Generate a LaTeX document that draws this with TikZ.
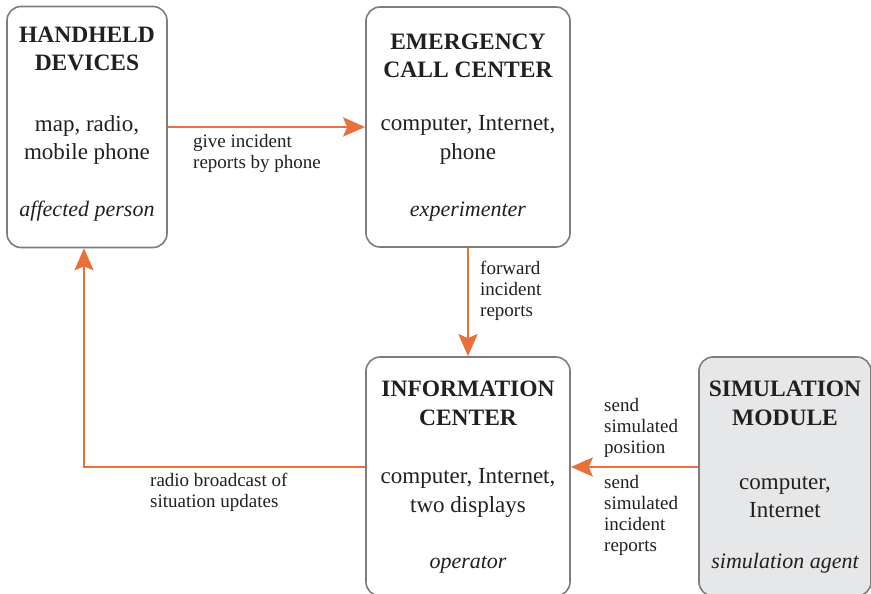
\documentclass[tikz,border=0pt]{standalone}
\usepackage{fontspec}
\setmainfont{Liberation Serif}
\usetikzlibrary{arrows.meta}
\definecolor{flow}{HTML}{E9703A}
\definecolor{frame}{HTML}{7D7D7D}
\definecolor{simfill}{HTML}{E6E7E8}
\definecolor{ink}{HTML}{231F20}
\tikzset{
  unit/.style={draw=frame, line width=1.6pt, rounded corners=14pt,
    inner sep=0pt, fill=white},
  heading/.style={align=center, inner sep=0pt, text=ink,
    font=\fontsize{23.5}{28.5}\selectfont\bfseries},
  body/.style={align=center, inner sep=0pt, text=ink,
    font=\fontsize{23}{28.5}\selectfont},
  role/.style={inner sep=0pt, text=ink, font=\fontsize{22}{26}\selectfont\itshape},
  note/.style={align=left, anchor=west, inner sep=0pt, text=ink,
    font=\fontsize{19}{21}\selectfont},
  flowline/.style={draw=flow, line width=2.8pt,
    -{Stealth[length=22pt,width=19pt,inset=4pt]}},
}
\begin{document}
\begin{tikzpicture}[x=1pt, y=-1pt]
  \useasboundingbox (0,0) rectangle (871,594);
  \clip (0,0) rectangle (871,594);

  % the four units
  \node[unit, minimum width=160pt, minimum height=241pt] (hand) at (87,127) {};
  \node[unit, minimum width=204pt, minimum height=240pt] (emer) at (468,127) {};
  \node[unit, minimum width=204pt, minimum height=239pt] (info) at (468,476.5) {};
  \node[unit, fill=simfill, minimum width=172pt, minimum height=239pt] (sim) at (785,476.5) {};

  % unit contents
  \node[heading] (handT) at (87,49) {HANDHELD\\DEVICES};
  \node[body] (handB) at (87,140) {map, radio,\\mobile phone};
  \node[role] (handR) at (87,211) {affected person};

  \node[heading] (emerT) at (468,56) {EMERGENCY\\CALL CENTER};
  \node[body] (emerB) at (468,140) {computer, Internet,\\phone};
  \node[role] (emerR) at (468,212) {experimenter};

  \node[heading] (infoT) at (468,403.5) {INFORMATION\\CENTER};
  \node[body] (infoB) at (468,493) {computer, Internet,\\two displays};
  \node[role] (infoR) at (468,565) {operator};

  \node[heading] (simT) at (785,403.5) {SIMULATION\\MODULE};
  \node[body] (simB) at (785,497) {computer,\\Internet};
  \node[role] (simR) at (785,563) {simulation agent};

  % information flows
  \draw[flowline] (hand.east) -- (emer.west);
  \draw[flowline] (emer.south) -- (info.north);
  \coordinate (infoOut) at ([yshift=9.5pt]info.west);
  \coordinate (handIn) at ([xshift=-3pt]hand.south);
  \draw[flowline] (infoOut) -| (handIn);
  \draw[flowline] ([yshift=9.5pt]sim.west) -- ([yshift=9.5pt]info.east);

  % flow labels
  \node[note] (l1) at (193,153) {give incident\\reports by phone};
  \node[note] (l2) at (480,291) {forward\\incident\\reports};
  \node[note] (l3) at (150,492.5) {radio broadcast of\\situation updates};
  \node[note] (l4) at (604,427.5) {send\\simulated\\position};
  \node[note] (l5) at (604,515.5) {send\\simulated\\incident\\reports};
\end{tikzpicture}
\end{document}
